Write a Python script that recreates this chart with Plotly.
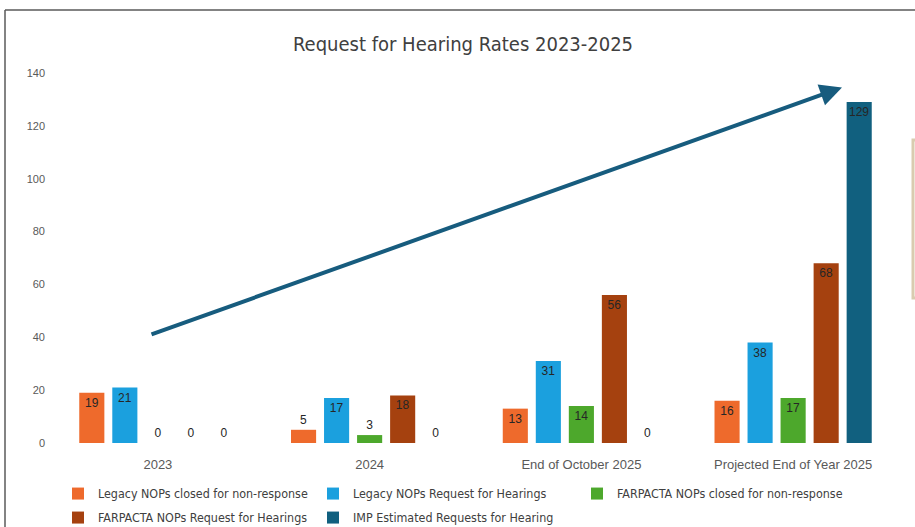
import plotly.graph_objects as go

categories = ["2023", "2024", "End of October 2025", "Projected End of Year 2025"]

legacy_closed = [19, 5, 13, 16]
legacy_request = [21, 17, 31, 38]
farpacta_closed = [0, 3, 14, 17]
farpacta_request = [0, 18, 56, 68]
imp_estimated = [0, 0, 0, 129]

# name, values, colour, legend row, legend entry width
series = [
    ("Legacy NOPs closed for non-response", legacy_closed, "#EE6A2C", "legend", 210),
    ("Legacy NOPs Request for Hearings", legacy_request, "#1BA0DE", "legend", 219),
    ("FARPACTA NOPs closed for non-response", farpacta_closed, "#4DA82C", "legend", 245),
    ("FARPACTA NOPs Request for Hearings", farpacta_request, "#A5410F", "legend2", 210),
    ("IMP Estimated Requests for Hearing", imp_estimated, "#11607F", "legend2", 230),
]

NARROW = "Liberation Sans Narrow, DejaVu Sans Condensed, Arial Narrow, sans-serif"
LABEL = "Liberation Sans, Arial, sans-serif"

fig = go.Figure()
for name, vals, color, leg, lw in series:
    positions = ["inside" if v > 8 else "outside" for v in vals]
    fig.add_trace(go.Bar(
        name=name,
        x=categories,
        y=vals,
        legend=leg,
        legendwidth=lw,
        marker=dict(color=color, line=dict(width=0)),
        text=[str(v) for v in vals],
        textposition=positions,
        insidetextanchor="end",
        constraintext="none",
        textangle=0,
        textfont=dict(family=LABEL, size=12, color="#262626"),
        insidetextfont=dict(family=LABEL, size=12, color="#262626"),
        outsidetextfont=dict(family=LABEL, size=12, color="#262626"),
        cliponaxis=False,
    ))

x0, x1 = 52, 899
y0, y1 = 443, 73
W, H = 915, 527


def px_x(p):
    return (p - x0) / (x1 - x0)


def px_y(p):
    return (y0 - p) / (y0 - y1)


legend_style = dict(
    orientation="h",
    xref="paper", xanchor="left",
    yref="paper", yanchor="top",
    itemwidth=30,
    font=dict(family=NARROW, size=12.4, color="#404040"),
    bgcolor="rgba(0,0,0,0)",
    tracegroupgap=0,
)

fig.update_layout(
    width=W,
    height=H,
    barmode="group",
    bargap=0.22,
    bargroupgap=0.24,
    paper_bgcolor="white",
    plot_bgcolor="white",
    margin=dict(l=x0, r=W - x1, t=y1, b=H - y0, autoexpand=False),
    title=dict(
        text="Request for Hearing Rates 2023-2025",
        x=463 / W, xref="container", xanchor="center",
        y=1 - 44 / H, yref="container", yanchor="middle",
        font=dict(family=NARROW, size=20, color="#404040"),
    ),
    showlegend=True,
    legend=dict(legend_style, x=px_x(58), y=px_y(479)),
    legend2=dict(legend_style, x=px_x(58), y=px_y(503)),
    xaxis=dict(
        showgrid=False,
        showline=False,
        ticks="",
        ticklabelstandoff=12,
        tickfont=dict(family=LABEL, size=13, color="#595959"),
    ),
    yaxis=dict(
        range=[0, 140],
        tickvals=[0, 20, 40, 60, 80, 100, 120, 140],
        showgrid=False,
        showline=False,
        zeroline=False,
        ticks="",
        ticklabelstandoff=6,
        tickfont=dict(family=LABEL, size=11, color="#595959"),
    ),
    uniformtext=dict(mode=False),
)

# trend arrow across the chart
fig.add_annotation(
    x=px_x(842), y=134.5, xref="x domain", yref="y",
    ax=px_x(150), ay=40.9, axref="x domain", ayref="y",
    showarrow=True, arrowhead=2, arrowsize=1.1, arrowwidth=4,
    arrowcolor="#175C7E", text="",
)

# frame lines
fig.add_shape(type="line", xref="paper", yref="paper",
              x0=px_x(5), x1=px_x(930), y0=px_y(10), y1=px_y(10),
              line=dict(color="#5A5A5A", width=1.5))
fig.add_shape(type="line", xref="paper", yref="paper",
              x0=px_x(5), x1=px_x(5), y0=px_y(10), y1=px_y(540),
              line=dict(color="#5A5A5A", width=1.5))

# side callout box edge
fig.add_shape(type="rect", xref="paper", yref="paper",
              x0=px_x(913), x1=px_x(960), y0=px_y(140), y1=px_y(298),
              line=dict(color="#D9CCB0", width=3), fillcolor="white")

fig.write_html("out.html")
